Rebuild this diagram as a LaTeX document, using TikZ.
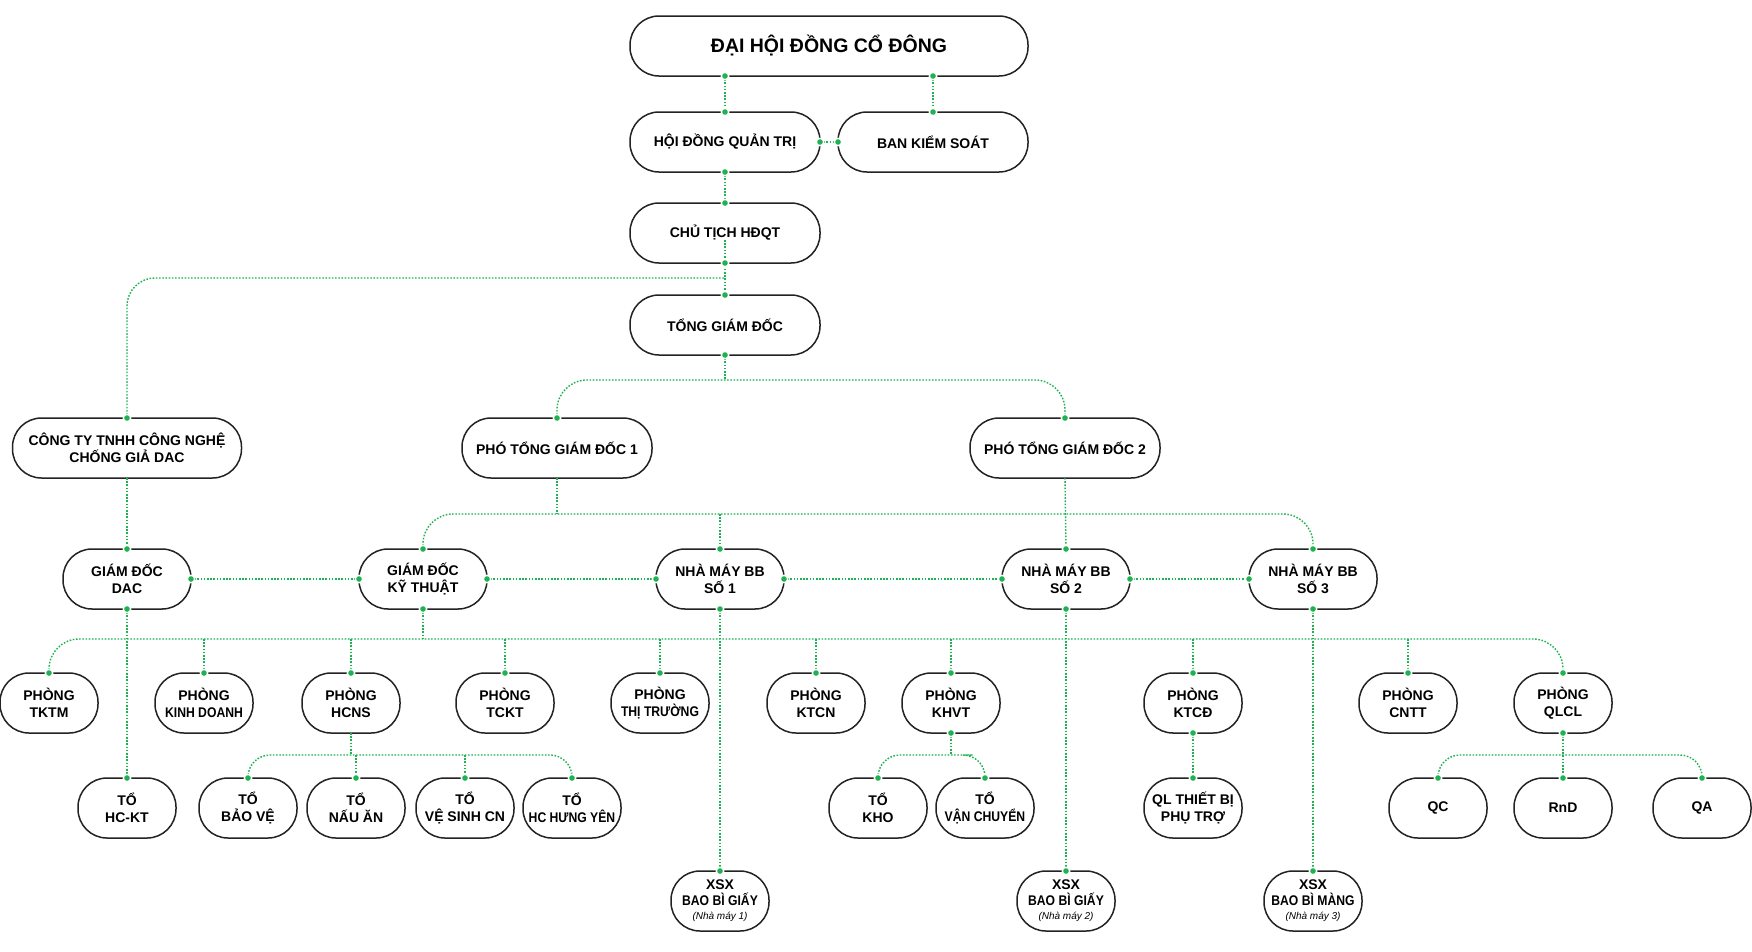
\documentclass[tikz,border=0pt]{standalone}
\usepackage{fontspec}
\setmainfont{Liberation Sans}
\newfontfamily\slimsans[FakeStretch=0.87]{Liberation Sans}
\usepackage{tikz}
\usetikzlibrary{positioning,calc}

\definecolor{linkgreen}{RGB}{30,178,82}
\definecolor{boxline}{RGB}{35,35,35}

\tikzset{
  orgbox/.style={draw=boxline,line width=1.5pt,fill=white,rounded corners=29pt,
    minimum height=60pt,inner sep=2pt,outer sep=0pt,align=center,
    font=\fontsize{14}{16.5}\selectfont\bfseries},
  boxwide/.style={orgbox,minimum width=190pt},
  boxmid/.style={orgbox,minimum width=128pt},
  boxsmall/.style={orgbox,minimum width=98pt},
  link/.style={draw=linkgreen,line width=1.4pt,dash pattern=on 1.6pt off 1.6pt},
}
\newcommand{\linkdot}[1]{%
  \fill[white] (#1) circle (4.5pt);
  \fill[linkgreen] (#1) circle (2.8pt);}
\newcommand{\tightline}[1]{{\slimsans #1}}

\begin{document}
\begin{tikzpicture}[x=1pt,y=-1pt]
\fill[white] (0,0) rectangle (1752,951);
\useasboundingbox (0,0) rectangle (1752,951);

% ban lanh dao
\node[boxwide,minimum width=398pt,font=\fontsize{19.5}{22}\selectfont\bfseries] (dhdcd) at (829,46) {ĐẠI HỘI ĐỒNG CỔ ĐÔNG};
\node[boxwide] (hdqt) at (725,142) {HỘI ĐỒNG QUẢN TRỊ};
\node[boxwide] (bks) at (933,142) {BAN KIỂM SOÁT};
\node[boxwide] (ct) at (725,233) {CHỦ TỊCH HĐQT};
\node[boxwide] (tgd) at (725,325) {TỔNG GIÁM ĐỐC};
\node[boxwide,minimum width=229pt] (cty) at (127,448) {CÔNG TY TNHH CÔNG NGHỆ\\CHỐNG GIẢ DAC};
\node[boxwide] (ptgd1) at (557,448) {PHÓ TỔNG GIÁM ĐỐC 1};
\node[boxwide] (ptgd2) at (1065,448) {PHÓ TỔNG GIÁM ĐỐC 2};

% giam doc, nha may
\node[boxmid] (gddac) at (127,579) {GIÁM ĐỐC\\DAC};
\node[boxmid] (gdkt) at (423,579) {GIÁM ĐỐC\\KỸ THUẬT};
\foreach \i/\x/\txt in {1/720/GIẤY,2/1066/GIẤY,3/1313/MÀNG}{
  \node[boxmid] (nm\i) at (\x,579) {NHÀ MÁY BB\\SỐ \i};
  \node[boxsmall,font=\fontsize{14}{16}\selectfont\bfseries] (xsx\i) at (\x,901)
    {XSX\\\tightline{BAO BÌ \txt}\\[-2pt]{\fontsize{10}{11}\selectfont\mdseries\itshape (Nhà máy \i)}};}

% phong ban
\foreach \nm/\x/\txt in {tktm/49/TKTM,kd/204/\tightline{KINH DOANH},hcns/351/HCNS,
    tckt/505/TCKT,tt/660/\tightline{THỊ TRƯỜNG},ktcn/816/KTCN,khvt/951/KHVT,
    ktcd/1193/KTCĐ,cntt/1408/CNTT,qlcl/1563/QLCL}
  \node[boxsmall] (\nm) at (\x,703) {PHÒNG\\\txt};

% to, bo phan
\foreach \nm/\x/\txt in {hckt/127/HC-KT,bv/248/BẢO VỆ,na/356/NẤU ĂN,vs/465/VỆ SINH CN,
    hy/572/\tightline{HC HƯNG YÊN},kho/878/KHO,vc/985/\tightline{VẬN CHUYỂN}}
  \node[boxsmall] (\nm) at (\x,808) {TỔ\\\txt};
\node[boxsmall] (qltb) at (1193,808) {QL THIẾT BỊ\\PHỤ TRỢ};
\foreach \nm/\x/\txt in {qc/1438/QC,rnd/1563/RnD,qa/1702/QA}
  \node[boxsmall] (\nm) at (\x,808) {\txt};

% diem re nhanh
\coordinate (jA) at (dhdcd.south -| hdqt);
\coordinate (jB) at (dhdcd.south -| bks);
\coordinate (jcty) at (725,278);
\coordinate (jtgd) at (725,380);
\coordinate (jpt) at (557,514);
\coordinate (jkt) at (423,639);
\coordinate (jhc) at (351,755);
\coordinate (jkh) at (951,755);
\coordinate (jql) at (1563,755);

% duong noi
\draw[link] (jA) -- (hdqt.north);
\draw[link] (jB) -- (bks.north);
\draw[link] (hdqt.east) -- (bks.west);
\draw[link] (hdqt.south) -- (ct.north);
\draw[link] ([yshift=-7pt]ct.center) -- (tgd.north);
\draw[link,rounded corners=28pt] (cty.north) |- (jcty);
\draw[link] (tgd.south) -- (jtgd);
\draw[link,rounded corners=30pt] (ptgd1.north) |- (jtgd) -| (ptgd2.north);
\draw[link] (ptgd1.south) -- (jpt);
\draw[link,rounded corners=30pt] (gdkt.north) |- (jpt) -| (nm3.north);
\draw[link] (nm1.north |- jpt) -- (nm1.north);
\draw[link] (ptgd2.south) -- (nm2.north);
\draw[link] (cty.south) -- (gddac.north);
\draw[link] (gddac.east) -- (gdkt.west);
\draw[link] (gdkt.east) -- (nm1.west);
\draw[link] (nm1.east) -- (nm2.west);
\draw[link] (nm2.east) -- (nm3.west);
\draw[link] (gdkt.south) -- (jkt);
\draw[link,rounded corners=30pt] (tktm.north) |- (jkt) -| (qlcl.north);
\foreach \nm in {kd,hcns,tckt,tt,ktcn,khvt,ktcd,cntt}
  \draw[link] (\nm.north |- jkt) -- (\nm.north);
\draw[link] (gddac.south) -- (hckt.north);
\foreach \i in {1,2,3}
  \draw[link] (nm\i.south) -- (xsx\i.north);
\draw[link] (hcns.south) -- (jhc);
\draw[link,rounded corners=22pt] (bv.north) |- (jhc) -| (hy.north);
\foreach \nm in {na,vs}
  \draw[link] (\nm.north |- jhc) -- (\nm.north);
\draw[link] (khvt.south) -- (jkh);
\draw[link,rounded corners=22pt] (kho.north) |- (jkh) -| (vc.north);
\draw[link] (ktcd.south) -- (qltb.north);
\draw[link] (qlcl.south) -- (rnd.north);
\draw[link,rounded corners=22pt] (qc.north) |- (jql) -| (qa.north);

% cham xanh
\linkdot{jA} \linkdot{jB}
\foreach \p in {hdqt.north,bks.north,hdqt.east,bks.west,hdqt.south,ct.north,ct.south,
    tgd.north,tgd.south,cty.north,ptgd1.north,ptgd2.north,gddac.north,gddac.east,
    gddac.south,gdkt.west,gdkt.north,gdkt.east,gdkt.south,nm1.north,nm1.west,nm1.east,
    nm1.south,nm2.north,nm2.west,nm2.east,nm2.south,nm3.north,nm3.west,nm3.south,
    khvt.south,ktcd.south,qlcl.south,xsx1.north,xsx2.north,xsx3.north}
  {\linkdot{\p}}
\foreach \nm in {tktm,kd,hcns,tckt,tt,ktcn,khvt,ktcd,cntt,qlcl,
    hckt,bv,na,vs,hy,kho,vc,qltb,qc,rnd,qa}
  {\linkdot{\nm.north}}
\end{tikzpicture}
\end{document}
